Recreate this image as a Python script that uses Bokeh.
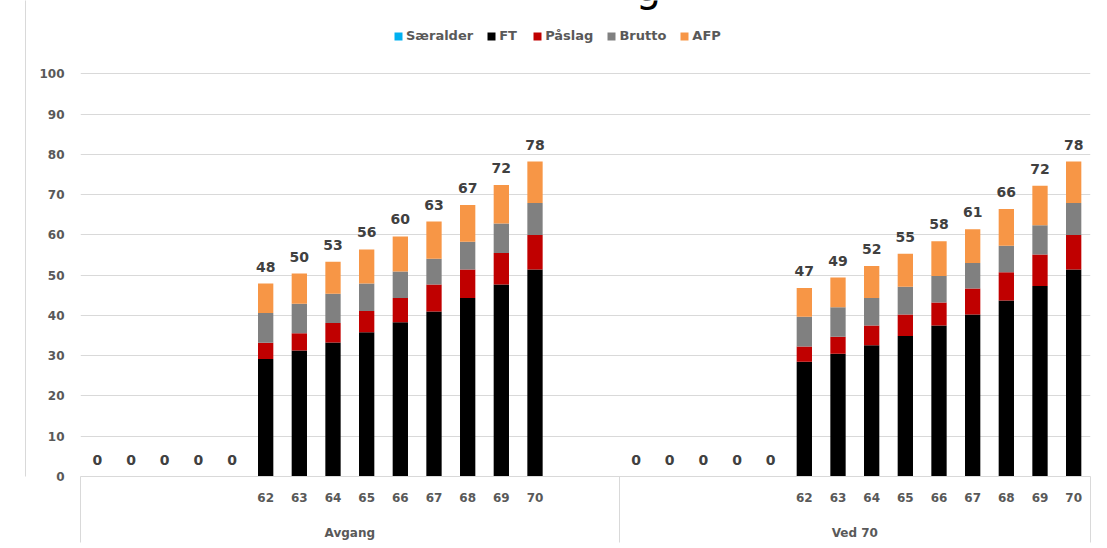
import math
from bokeh.plotting import figure
from bokeh.models import ColumnDataSource, Range1d, FixedTicker, LinearAxis, Label
from bokeh.core.properties import value
from bokeh.embed import file_html
from bokeh.resources import INLINE

# ---------------- data ----------------
groups = ["Avgang", "Ved 70"]
avgang_cats = ["", "", "", "", "", "62", "63", "64", "65", "66", "67", "68", "69", "70", "", ""]
ved70_cats = ["", "", "", "", "", "62", "63", "64", "65", "66", "67", "68", "69", "70"]

series_keys = ["saeralder", "ft", "paslag", "brutto", "afp"]
series_names = ["Særalder", "FT", "Påslag", "Brutto", "AFP"]
series_colors = ["#00B0F0", "#000000", "#C00000", "#808080", "#F79646"]

N = None
avgang_saeralder = [0, 0, 0, 0, 0, 0, 0, 0, 0, 0, 0, 0, 0, 0, N, N]
avgang_ft = [0, 0, 0, 0, 0, 29.2, 31.3, 33.3, 35.8, 38.3, 41.0, 44.3, 47.7, 51.4, N, N]
avgang_paslag = [0, 0, 0, 0, 0, 4.0, 4.3, 4.8, 5.3, 6.0, 6.7, 7.1, 7.8, 8.6, N, N]
avgang_brutto = [0, 0, 0, 0, 0, 7.4, 7.3, 7.3, 6.8, 6.6, 6.4, 6.9, 7.3, 7.9, N, N]
avgang_afp = [0, 0, 0, 0, 0, 7.3, 7.5, 7.9, 8.5, 8.7, 9.2, 9.1, 9.6, 10.3, N, N]

ved70_saeralder = [0, 0, 0, 0, 0, 0, 0, 0, 0, 0, 0, 0, 0, 0]
ved70_ft = [0, 0, 0, 0, 0, 28.5, 30.5, 32.6, 34.9, 37.5, 40.2, 43.7, 47.3, 51.4]
ved70_paslag = [0, 0, 0, 0, 0, 3.8, 4.2, 4.9, 5.3, 5.7, 6.5, 7.0, 7.8, 8.6]
ved70_brutto = [0, 0, 0, 0, 0, 7.4, 7.3, 6.8, 6.9, 6.6, 6.3, 6.6, 7.3, 7.9]
ved70_afp = [0, 0, 0, 0, 0, 7.1, 7.4, 8.0, 8.2, 8.6, 8.4, 9.1, 9.8, 10.3]

y_ticks = [0, 10, 20, 30, 40, 50, 60, 70, 80, 90, 100]

# ---------------- build table ----------------
cats = avgang_cats + ved70_cats
n_slots = len(cats)
xs = [i + 0.5 for i in range(n_slots)]

avgang = [avgang_saeralder, avgang_ft, avgang_paslag, avgang_brutto, avgang_afp]
ved70 = [ved70_saeralder, ved70_ft, ved70_paslag, ved70_brutto, ved70_afp]

data = {"x": xs}
for key, a, b in zip(series_keys, avgang, ved70):
    data[key] = [float("nan") if v is None else float(v) for v in a + b]

totals = []
labels = []
for i in range(n_slots):
    vals = [data[k][i] for k in series_keys]
    if any(math.isnan(v) for v in vals):
        totals.append(float("nan"))
        labels.append("")
    else:
        t = sum(vals)
        totals.append(t)
        labels.append(str(int(round(t))))
data["total"] = totals
data["label"] = labels
src = ColumnDataSource(data)

FONT = "DejaVu Sans"
TXT = "#595959"
LINE = "#D9D9D9"

W, H = 1107, 548
frame_bottom = 476          # px from top where value 0 sits
px_per_unit = (476 - 73.3) / 100.0
y_top = frame_bottom / px_per_unit   # frame reaches the top of the canvas

p = figure(width=W, height=H, output_backend="svg", toolbar_location=None,
           x_range=Range1d(0, n_slots), y_range=Range1d(0, y_top),
           x_axis_type=None, min_border_left=80, min_border_right=17,
           min_border_top=0, min_border_bottom=H - frame_bottom)
p.outline_line_color = None
p.background_fill_color = "white"
p.border_fill_color = "white"
p.xgrid.grid_line_color = None
p.ygrid.grid_line_color = LINE
p.ygrid.ticker = FixedTicker(ticks=y_ticks)

p.vbar_stack(series_keys, x="x", width=0.455, color=series_colors, source=src,
             legend_label=series_names, line_color=None)

p.text(x="x", y="total", text="label", source=src, text_font=value(FONT),
       text_font_style="bold", text_font_size="14px", text_color="#404040",
       text_align="center", text_baseline="alphabetic", y_offset=-17)

# cut-off title fragment at the top edge
p.add_layout(Label(x=648 - 80, y=frame_bottom + 14, x_units="screen", y_units="screen",
                   text="g", text_font=FONT, text_font_size="40px",
                   text_color="#000000", text_align="center",
                   text_baseline="alphabetic"))

# y axis
ya = p.yaxis[0]
ya.ticker = FixedTicker(ticks=y_ticks)
ya.axis_line_color = None
ya.major_tick_line_color = None
ya.minor_tick_line_color = None
ya.major_tick_out = 0
ya.major_tick_in = 0
ya.major_label_standoff = 16
ya.major_label_text_font = FONT
ya.major_label_text_font_style = "bold"
ya.major_label_text_font_size = "12px"
ya.major_label_text_color = TXT
ya.axis_label = " "
ya.axis_label_standoff = -3
ya.axis_label_text_font_size = "10px"

# outer left border line
ob = LinearAxis(ticker=FixedTicker(ticks=[]), major_label_text_font_size="0px")
ob.axis_line_color = LINE
ob.major_tick_line_color = None
ob.minor_tick_line_color = None
ob.major_tick_out = 0
ob.major_tick_in = 0
p.add_layout(ob, "left")

# x axis with category labels and group separators
group_bounds = [0, len(avgang_cats), n_slots]
overrides = {x: c for x, c in zip(xs, cats)}
xa = LinearAxis(ticker=FixedTicker(ticks=xs, minor_ticks=group_bounds),
                major_label_overrides=overrides)
xa.axis_line_color = LINE
xa.major_tick_line_color = None
xa.major_tick_out = 0
xa.major_tick_in = 0
xa.minor_tick_line_color = LINE
xa.minor_tick_out = 66
xa.minor_tick_in = 0
xa.major_label_standoff = 16 - 66
xa.major_label_text_font = FONT
xa.major_label_text_font_style = "bold"
xa.major_label_text_font_size = "12px"
xa.major_label_text_color = TXT
p.add_layout(xa, "below")

# group label axis
group_centers = [len(avgang_cats) / 2, len(avgang_cats) + len(ved70_cats) / 2]
ga = LinearAxis(ticker=FixedTicker(ticks=group_centers, minor_ticks=[]),
                major_label_overrides={c: g for c, g in zip(group_centers, groups)})
ga.axis_line_color = None
ga.major_tick_line_color = None
ga.minor_tick_line_color = None
ga.major_tick_out = 0
ga.major_tick_in = 0
ga.major_label_standoff = 21
ga.major_label_text_font = FONT
ga.major_label_text_font_style = "bold"
ga.major_label_text_font_size = "12px"
ga.major_label_text_color = TXT
p.add_layout(ga, "below")

# legend (inside the tall frame, above the 100 gridline)
lg = p.legend[0]
lg.orientation = "horizontal"
lg.location = (393 - 80, frame_bottom - 43)
lg.padding = 0
lg.margin = 0
lg.spacing = 13
lg.label_standoff = 3
lg.glyph_width = 10
lg.glyph_height = 10
lg.label_height = 10
lg.label_text_font = FONT
lg.label_text_font_style = "bold"
lg.label_text_font_size = "13px"
lg.label_text_color = TXT
lg.border_line_color = None
lg.background_fill_alpha = 0

open("out.html", "w").write(file_html(p, INLINE))
